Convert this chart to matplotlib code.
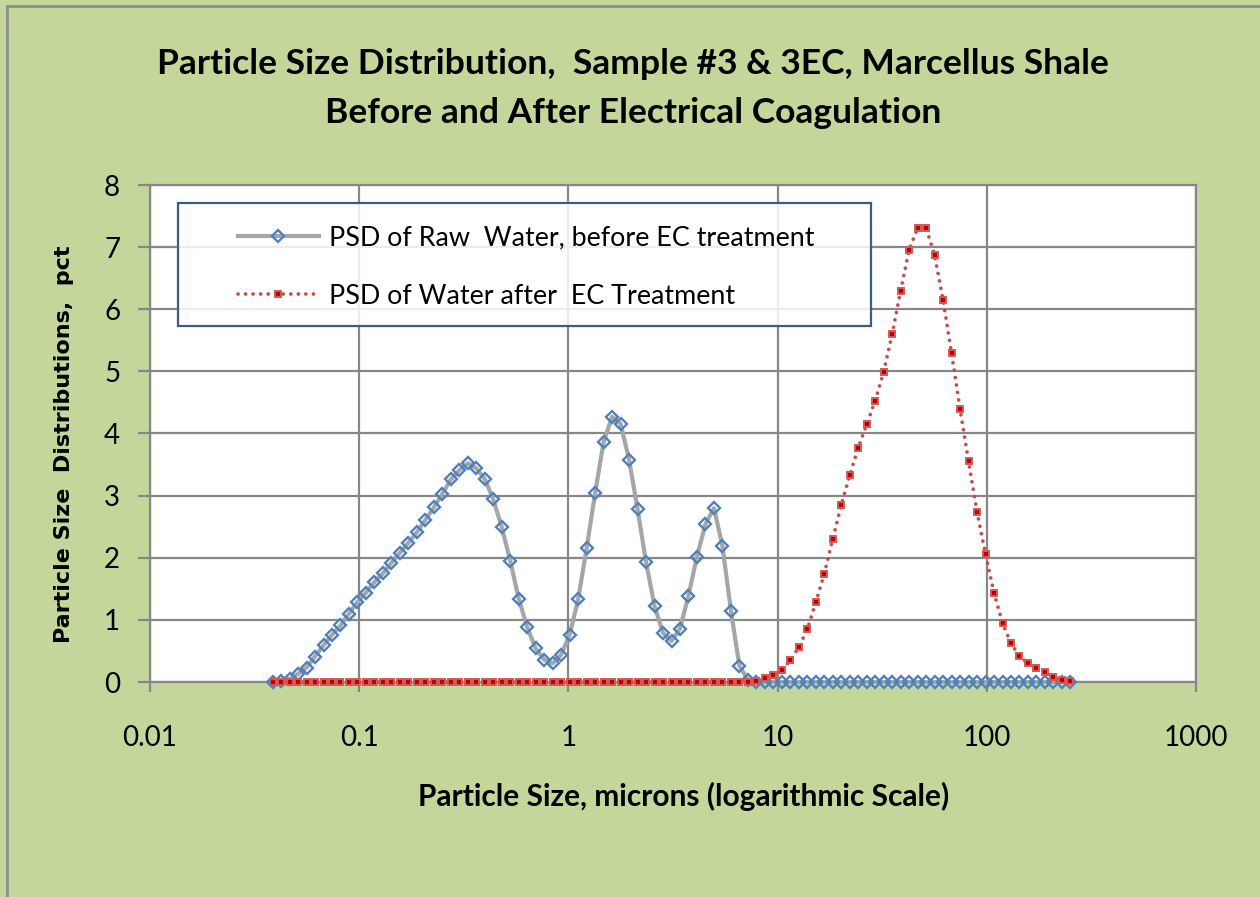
import matplotlib
matplotlib.use("Agg")
import matplotlib.pyplot as plt
from matplotlib.patches import Rectangle
from matplotlib.ticker import FixedLocator, FixedFormatter, NullLocator

# particle size channels (microns)
size_um = [
    0.03855, 0.04232, 0.04646, 0.05101, 0.05601, 0.06149, 0.06751, 0.07413, 0.08139, 0.08936,
    0.09811, 0.1077, 0.1183, 0.1299, 0.1426, 0.1565, 0.1718, 0.1887, 0.2072, 0.2275,
    0.2497, 0.2742, 0.3010, 0.3305, 0.3629, 0.3984, 0.4374, 0.4803, 0.5273, 0.5789,
    0.6356, 0.6979, 0.7662, 0.8412, 0.9235, 1.014, 1.113, 1.222, 1.342, 1.473,
    1.618, 1.776, 1.950, 2.141, 2.350, 2.581, 2.833, 3.111, 3.415, 3.750,
    4.117, 4.520, 4.962, 5.448, 5.982, 6.567, 7.210, 7.916, 8.691, 9.541,
    10.48, 11.50, 12.63, 13.87, 15.22, 16.71, 18.35, 20.15, 22.12, 24.29,
    26.67, 29.28, 32.14, 35.29, 38.75, 42.54, 46.71, 51.28, 56.30, 61.80,
    67.86, 74.50, 81.79, 89.80, 98.60, 108.3, 118.9, 130.5, 143.3, 157.3,
    172.7, 189.6, 208.2, 228.6, 250.9,
]

# PSD of raw water, before EC treatment (pct)
psd_raw = [
    0.00, 0.02, 0.05, 0.13, 0.23, 0.41, 0.59, 0.76, 0.91, 1.10,
    1.29, 1.44, 1.61, 1.75, 1.92, 2.08, 2.24, 2.41, 2.61, 2.81,
    3.03, 3.26, 3.41, 3.52, 3.44, 3.27, 2.94, 2.49, 1.95, 1.34,
    0.88, 0.54, 0.36, 0.30, 0.44, 0.76, 1.33, 2.15, 3.04, 3.86,
    4.27, 4.16, 3.58, 2.78, 1.93, 1.22, 0.79, 0.66, 0.86, 1.39,
    2.02, 2.54, 2.80, 2.19, 1.15, 0.26, 0.03, 0.00, 0.00, 0.00,
    0.00, 0.00, 0.00, 0.00, 0.00, 0.00, 0.00, 0.00, 0.00, 0.00,
    0.00, 0.00, 0.00, 0.00, 0.00, 0.00, 0.00, 0.00, 0.00, 0.00,
    0.00, 0.00, 0.00, 0.00, 0.00, 0.00, 0.00, 0.00, 0.00, 0.00,
    0.00, 0.00, 0.00, 0.00, 0.00,
]

# PSD of water after EC treatment (pct)
psd_ec = [
    0.00, 0.00, 0.00, 0.00, 0.00, 0.00, 0.00, 0.00, 0.00, 0.00,
    0.00, 0.00, 0.00, 0.00, 0.00, 0.00, 0.00, 0.00, 0.00, 0.00,
    0.00, 0.00, 0.00, 0.00, 0.00, 0.00, 0.00, 0.00, 0.00, 0.00,
    0.00, 0.00, 0.00, 0.00, 0.00, 0.00, 0.00, 0.00, 0.00, 0.00,
    0.00, 0.00, 0.00, 0.00, 0.00, 0.00, 0.00, 0.00, 0.00, 0.00,
    0.00, 0.00, 0.00, 0.00, 0.00, 0.00, 0.00, 0.02, 0.06, 0.11,
    0.19, 0.35, 0.56, 0.85, 1.28, 1.74, 2.30, 2.85, 3.33, 3.77,
    4.15, 4.53, 4.99, 5.60, 6.30, 6.96, 7.31, 7.31, 6.87, 6.15,
    5.29, 4.39, 3.55, 2.74, 2.06, 1.43, 0.95, 0.62, 0.42, 0.30,
    0.22, 0.16, 0.08, 0.03, 0.01,
]

x_ticks = [0.01, 0.1, 1, 10, 100, 1000]
x_tick_labels = ["0.01", "0.1", "1", "10", "100", "1000"]
y_ticks = [0, 1, 2, 3, 4, 5, 6, 7, 8]

label_raw = "PSD of Raw  Water, before EC treatment"
label_ec = "PSD of Water after  EC Treatment"

NARROW = ["Lato", "DejaVu Sans"]
BG = "#C4D79B"
GRID = "#878787"

fig = plt.figure(figsize=(12.6, 8.97), dpi=100, facecolor=BG)
fig.patches.append(Rectangle((7 / 1260, -0.01), 1.02, 1 - 6 / 897 + 0.01,
                             transform=fig.transFigure, facecolor="none",
                             edgecolor="#8C8C8C", linewidth=2))

ax = fig.add_axes([150 / 1260, 1 - 682 / 897, 1046 / 1260, 497 / 897])
ax.set_facecolor("white")

ax.plot(size_um, psd_raw, color="#A6A6A6", linewidth=3.0, marker="D",
        markersize=6.0, markerfacecolor="none", markeredgecolor="#4F81BD",
        markeredgewidth=1.7, label=label_raw, zorder=3, clip_on=False)
ax.plot(size_um, psd_ec, color="#C0504D", linewidth=2.7,
        linestyle=(0, (0.01, 2.0)), dash_capstyle="round", marker="s",
        markersize=4.8, markerfacecolor="#C00000", markeredgecolor="#D05A57",
        markeredgewidth=1.4, label=label_ec, zorder=4, clip_on=False)

ax.set_xscale("log")
ax.set_xlim(0.01, 1000)
ax.set_ylim(0, 8)
ax.xaxis.set_major_locator(FixedLocator(x_ticks))
ax.xaxis.set_major_formatter(FixedFormatter(x_tick_labels))
ax.xaxis.set_minor_locator(NullLocator())
ax.set_yticks(y_ticks)

ax.grid(True, which="major", color=GRID, linewidth=1.6)
ax.set_axisbelow(True)
for s in ax.spines.values():
    s.set_color(GRID)
    s.set_linewidth(1.6)

ax.tick_params(axis="y", length=8.5, width=1.6, color=GRID, pad=13,
               labelsize=20)
ax.tick_params(axis="x", length=7, width=1.6, color=GRID, pad=24,
               labelsize=20)
for t in ax.get_xticklabels() + ax.get_yticklabels():
    t.set_family(NARROW)

# legend box drawn separately so the padding can match
ax.add_patch(Rectangle((28 / 1046, (682 - 326) / 497), 693 / 1046, 123 / 497,
                       transform=ax.transAxes, facecolor="white", alpha=0.85,
                       edgecolor="none", zorder=5))
ax.add_patch(Rectangle((28 / 1046, (682 - 326) / 497), 693 / 1046, 123 / 497,
                       transform=ax.transAxes, facecolor="none",
                       edgecolor="#385D8A", linewidth=1.6, zorder=6))
leg = ax.legend(loc="upper left", bbox_to_anchor=(88 / 1046, (682 - 225) / 497),
                frameon=False, borderpad=0, borderaxespad=0,
                handlelength=3.0, handletextpad=0.36, labelspacing=1.25,
                prop={"family": NARROW, "size": 19.4})
leg.set_zorder(7)

ax.set_xlabel("Particle Size, microns (logarithmic Scale)",
              family=NARROW, fontsize=21.5, fontweight="bold")
ax.xaxis.set_label_coords((684 - 150) / 1046, -0.2)
ax.set_ylabel("Particle Size  Distributions,  pct", family="DejaVu Sans",
              fontsize=16, fontweight="bold")
ax.yaxis.set_label_coords(-0.073, 0.479)

fig.text(633 / 1260, 1 - 64 / 897,
         "Particle Size Distribution,  Sample #3 & 3EC, Marcellus Shale",
         family=NARROW, fontsize=25.5, fontweight="bold", ha="center", va="center")
fig.text(633 / 1260, 1 - 113 / 897,
         "Before and After Electrical Coagulation",
         family=NARROW, fontsize=25.5, fontweight="bold", ha="center", va="center")

fig.savefig("out.png", dpi=100, facecolor=BG)
